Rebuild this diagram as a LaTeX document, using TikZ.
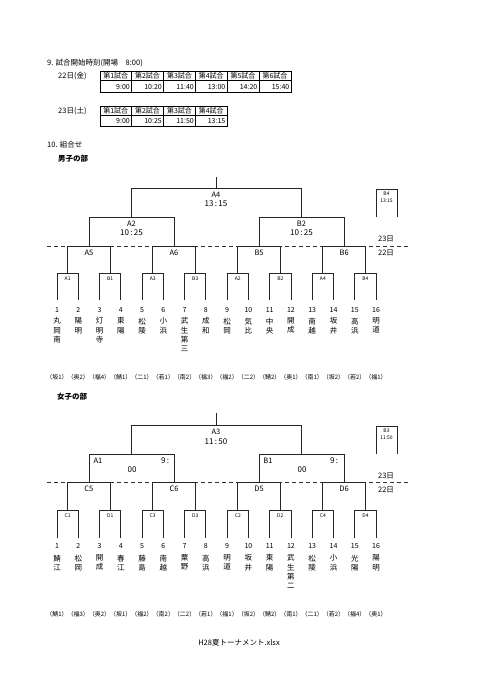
\documentclass[tikz,border=0pt]{standalone}
\usepackage{fontspec}
\setmainfont{Noto Sans CJK JP}
\begin{document}
\begin{tikzpicture}[x=1pt,y=-1pt,
  br/.style={draw=black!85, line width=0.8pt},
  dsh/.style={draw=black!80, line width=0.8pt, dash pattern=on 4pt off 3pt},
  tb/.style={draw=black, line width=0.8pt},
  txt/.style={inner sep=0pt, font=\fontsize{7.5}{9}\selectfont},
  hd/.style={inner sep=0pt, anchor=west, font=\fontsize{7.5}{9}\selectfont},
  bhd/.style={inner sep=0pt, anchor=west, font=\fontsize{7.5}{9}\selectfont\bfseries},
  cell/.style={inner sep=0pt, font=\fontsize{7}{8}\selectfont},
  lab/.style={inner sep=0pt, font=\fontsize{7.5}{9}\selectfont},
  tlab/.style={inner sep=0pt, font=\fontsize{8}{9}\selectfont},
  rlab/.style={inner sep=0pt, font=\fontsize{5}{6}\selectfont},
  num/.style={inner sep=0pt, font=\fontsize{7}{8}\selectfont},
  tname/.style={inner sep=0pt, anchor=north, align=center, font=\fontsize{7.5}{9.3}\selectfont},
  pref/.style={inner sep=0pt, font=\fontsize{6}{7}\selectfont}]
\useasboundingbox (0,0) rectangle (481,680);

% ---------- Section 9 ----------
\node[hd] (h9) at (47,63) {9. 試合開始時刻(開場　8:00)};
\node[hd] (d22) at (58,76) {22日(金)};
\node[hd] (d23) at (58,111) {23日(土)};
% table 1
\foreach \k/\a/\b/\v in {1/100/131.5/9:00,2/131.5/163.5/10:20,3/163.5/195.5/11:40,4/195.5/227/13:00,5/227/259/14:20,6/259/291/15:40}{
  \draw[tb] (\a,71.7) rectangle (\b,92.7);
  \draw[tb] (\a,80.7) -- (\b,80.7);
  \node[cell] (ta\k) at ({(\a+\b)/2},76.3) {第\k 試合};
  \node[cell, anchor=east] (tv\k) at (\b-1.5,87) {\v};
}
% table 2
\foreach \k/\a/\b/\v in {1/100/131.5/9:00,2/131.5/163.5/10:25,3/163.5/195.5/11:50,4/195.5/227/13:15}{
  \draw[tb] (\a,106.7) rectangle (\b,126.7);
  \draw[tb] (\a,115.7) -- (\b,115.7);
  \node[cell] (tb\k) at ({(\a+\b)/2},111.3) {第\k 試合};
  \node[cell, anchor=east] (tw\k) at (\b-1.5,121.5) {\v};
}

% ---------- Section 10 ----------
\node[hd] (h10) at (47,145) {10. 組合せ};
\node[bhd] (hb) at (58,159) {男子の部};

% ===== Boys bracket =====
\draw[dsh] (47,246) -- (408,246);
\draw[br] (216,177) -- (216,188);
\draw[br] (131,217) -- (131,188) -- (301,188) -- (301,217);
\draw[br] (89,246) -- (89,217) -- (174,217) -- (174,246);
\draw[br] (259,246) -- (259,217) -- (344,217) -- (344,246);
\node[lab] (bA4) at (216,195) {A4};
\node[tlab] (bA4t) at (216,204) {13\,:\,15};
\node[lab] (bA2) at (131.5,224) {A2};
\node[tlab] (bA2t) at (131.5,233) {10\,:\,25};
\node[lab] (bB2) at (301.5,224) {B2};
\node[tlab] (bB2t) at (301.5,233) {10\,:\,25};
% round 2
\foreach \k/\l in {0/A5,1/A6,2/B5,3/B6}{
  \pgfmathsetmacro\ma{57+(4*\k+0.5)*21.27}
  \pgfmathsetmacro\mb{57+(4*\k+2.5)*21.27}
  \draw[br] (\ma,273) -- (\ma,246) -- (\mb,246) -- (\mb,273);
  \node[lab] (bR2\k) at ({(\ma+\mb)/2},253) {\l};
}
% round 1
\foreach \k/\l in {0/A1,1/B1,2/A3,3/B3,4/A2,5/B2,6/A4,7/B4}{
  \pgfmathsetmacro\xa{57+(2*\k)*21.27}
  \pgfmathsetmacro\xb{57+(2*\k+1)*21.27}
  \draw[br] (\xa,300) -- (\xa,273) -- (\xb,273) -- (\xb,300);
  \node[rlab] (bR1\k) at ({(\xa+\xb)/2},278.5) {\l};
}
% B4 box
\draw[br] (376,217) -- (376,189) -- (397,189) -- (397,217);
\node[rlab] (bB4) at (386.5,194) {B4};
\node[rlab] (bB4t) at (386.5,201) {13:15};
\node[lab] (b23) at (386,239) {23日};
\node[lab] (b22) at (386,253) {22日};
% teams
\foreach \i/\n/\p in {1/{丸\\岡\\南}/坂1,2/{陽\\明}/奥2,3/{灯\\明\\寺}/福4,4/{東\\陽}/鯖1,
  5/{松\\陵}/二1,6/{小\\浜}/若1,7/{武\\生\\第\\三}/南2,8/{成\\和}/福3,
  9/{松\\岡}/福2,10/{気\\比}/二2,11/{中\\央}/鯖2,12/{開\\成}/奥1,
  13/{南\\越}/南1,14/{坂\\井}/坂2,15/{高\\浜}/若2,16/{明\\道}/福1}{
  \pgfmathsetmacro\tx{57+(\i-1)*21.27}
  \node[num] (bn\i) at (\tx,310) {\i};
  \node[tname] (bt\i) at (\tx,317.5) {\n};
  \node[pref] (bp\i) at (\tx,377) {（\p）};
}

% ===== Girls bracket =====
\node[bhd] (hg) at (57,397) {女子の部};
\draw[dsh] (47,482) -- (408,482);
\draw[br] (216,413) -- (216,425);
\draw[br] (131,454) -- (131,425) -- (301,425) -- (301,454);
\draw[br] (89,482) -- (89,454) -- (174,454) -- (174,482);
\draw[br] (259,482) -- (259,454) -- (344,454) -- (344,482);
\node[lab] (gA3) at (216,432) {A3};
\node[tlab] (gA3t) at (216,442) {11\,:\,50};
\node[lab] (gA1) at (98,461) {A1};
\node[tlab] (gA1a) at (165,461) {9\,:};
\node[tlab] (gA1b) at (132,470) {00};
\node[lab] (gB1) at (268,461) {B1};
\node[tlab] (gB1a) at (334,461) {9\,:};
\node[tlab] (gB1b) at (302,470) {00};
\foreach \k/\l in {0/C5,1/C6,2/D5,3/D6}{
  \pgfmathsetmacro\ma{57+(4*\k+0.5)*21.27}
  \pgfmathsetmacro\mb{57+(4*\k+2.5)*21.27}
  \draw[br] (\ma,510) -- (\ma,482) -- (\mb,482) -- (\mb,510);
  \node[lab] (gR2\k) at ({(\ma+\mb)/2},489) {\l};
}
\foreach \k/\l in {0/C1,1/D1,2/C3,3/D3,4/C2,5/D2,6/C4,7/D4}{
  \pgfmathsetmacro\xa{57+(2*\k)*21.27}
  \pgfmathsetmacro\xb{57+(2*\k+1)*21.27}
  \draw[br] (\xa,538) -- (\xa,510) -- (\xb,510) -- (\xb,538);
  \node[rlab] (gR1\k) at ({(\xa+\xb)/2},515.5) {\l};
}
\draw[br] (376,454) -- (376,426) -- (397,426) -- (397,454);
\node[rlab] (gB3) at (386.5,430.5) {B3};
\node[rlab] (gB3t) at (386.5,438) {11:50};
\node[lab] (g23) at (386,476) {23日};
\node[lab] (g22) at (386,490) {22日};
\foreach \i/\n/\p in {1/{鯖\\江}/鯖1,2/{松\\岡}/福3,3/{開\\成}/奥2,4/{春\\江}/坂1,
  5/{藤\\島}/福2,6/{南\\越}/南2,7/{粟\\野}/二2,8/{高\\浜}/若1,
  9/{明\\道}/福1,10/{坂\\井}/坂2,11/{東\\陽}/鯖2,12/{武\\生\\第\\二}/南1,
  13/{松\\陵}/二1,14/{小\\浜}/若2,15/{光\\陽}/福4,16/{陽\\明}/奥1}{
  \pgfmathsetmacro\tx{57+(\i-1)*21.27}
  \node[num] (gn\i) at (\tx,546) {\i};
  \node[tname] (gt\i) at (\tx,554.5) {\n};
  \node[pref] (gp\i) at (\tx,614) {（\p）};
}

\node[txt] (fn) at (239,643) {H28夏トーナメント.xlsx};
\end{tikzpicture}
\end{document}
